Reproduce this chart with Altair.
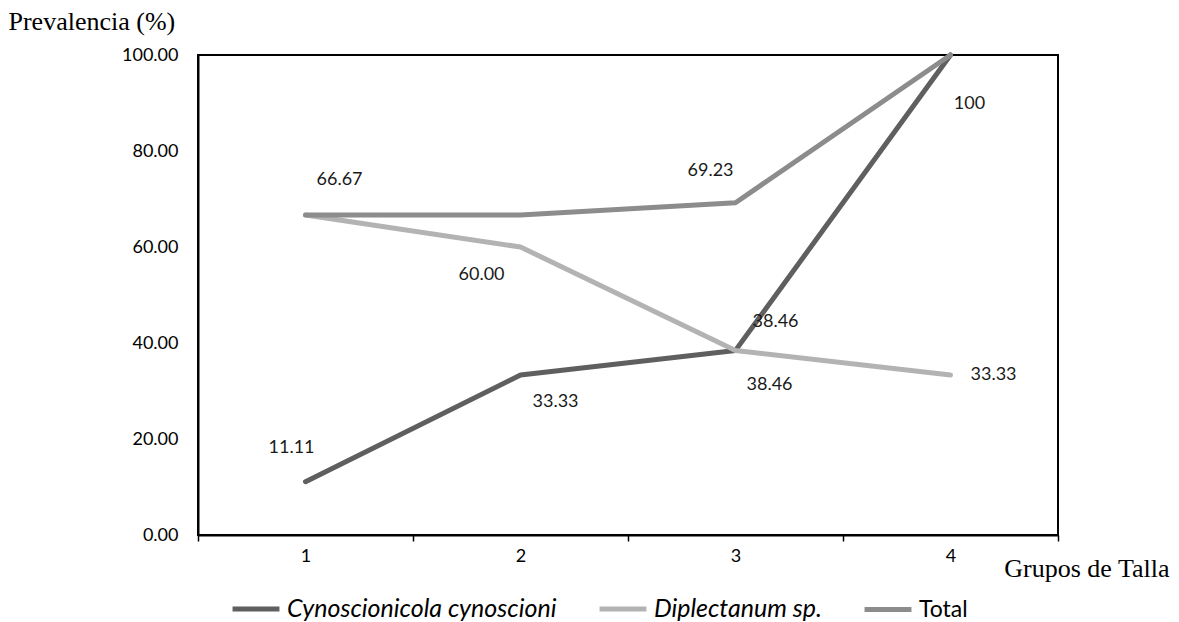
import altair as alt
import pandas as pd

groups = ["1", "2", "3", "4"]
series = ["Cynoscionicola cynoscioni", "Diplectanum sp.", "Total"]
cyno = [11.11, 33.33, 38.46, 100.0]
diple = [66.67, 60.00, 38.46, 33.33]
total = [66.67, 66.67, 69.23, 100.0]
colors = ["#5f5f5f", "#b3b3b3", "#8c8c8c"]

# data labels shown in the reference
lab_serie = [0, 0, 0, 0, 1, 1, 1, 2, 2]
lab_grupo = ["1", "2", "3", "4", "2", "3", "4", "1", "3"]
lab_text = ["11.11", "33.33", "38.46", "100", "60.00", "38.46", "33.33", "66.67", "69.23"]

# style: pixel offsets of each data label
lab_offsets = [(-14, -34), (35, 27), (40, -28), (19, 49), (-39, 28),
               (34, 35), (43, 0), (34, -35), (-25, -32)]

all_vals = [cyno, diple, total]
rows = []
for s, vals in zip(series, all_vals):
    for g, v in zip(groups, vals):
        rows.append({"serie": s, "grupo": g, "valor": v})
df = pd.DataFrame(rows)

lab_rows = []
for i, (si, g, t) in enumerate(zip(lab_serie, lab_grupo, lab_text)):
    lab_rows.append({"id": i, "serie": series[si], "grupo": g,
                     "valor": all_vals[si][groups.index(g)], "texto": t})
ldf = pd.DataFrame(lab_rows)

x = alt.X("grupo:O",
          scale=alt.Scale(type="band", paddingInner=0, paddingOuter=0, domain=groups),
          axis=alt.Axis(title="Grupos de Talla", labelAngle=0, tickBand="extent",
                        tickSize=6, tickColor="black", tickWidth=1.5,
                        domainColor="black", domainWidth=2,
                        labelFont="Lato", labelFontSize=18, labelColor="black",
                        labelPadding=6,
                        titleFont="Liberation Serif", titleFontSize=26,
                        titleFontWeight="normal", titleColor="black",
                        titleAlign="right", titleX=971, titleY=41,
                        titleBaseline="alphabetic"))
y = alt.Y("valor:Q",
          scale=alt.Scale(domain=[0, 100], nice=False),
          axis=alt.Axis(values=[0, 20, 40, 60, 80, 100], format=".2f",
                        title="Prevalencia (%)", titleAngle=0, titleAlign="left",
                        titleX=-190, titleY=-26, titleBaseline="alphabetic",
                        titleFont="Liberation Serif", titleFontSize=26,
                        titleFontWeight="normal", titleColor="black",
                        ticks=False, tickSize=0, grid=False,
                        domainColor="black", domainWidth=2,
                        labelFont="Lato", labelFontSize=18, labelColor="black",
                        labelPadding=20))

color = alt.Color("serie:N",
                  scale=alt.Scale(domain=series, range=colors),
                  legend=alt.Legend(title=None, orient="none", legendX=32, legendY=528,
                                    direction="horizontal", symbolType="stroke",
                                    symbolStrokeWidth=5, symbolSize=2200,
                                    labelFont="Lato",
                                    labelFontSize={"expr": "datum.label == 'Total' ? 23 : 25"},
                                    labelColor="black", labelOffset=5,
                                    labelLimit=0, columnPadding=32,
                                    labelFontStyle={"expr": "datum.label == 'Total' ? 'normal' : 'italic'"}))

layers = []
for s in series:
    layers.append(
        alt.Chart(df).transform_filter(alt.datum.serie == s)
        .mark_line(strokeWidth=5, strokeCap="round", strokeJoin="round")
        .encode(x=x, y=y, color=color)
    )

for i, (dx, dy) in enumerate(lab_offsets):
    layers.append(
        alt.Chart(ldf).transform_filter(alt.datum.id == i)
        .mark_text(dx=dx, dy=dy, font="Lato", fontSize=18, color="#1a1a1a")
        .encode(x=x, y=y, text="texto:N")
    )

chart = alt.layer(*layers).properties(
    width=860, height=480,
    autosize=alt.AutoSizeParams(type="none"),
    padding={"left": 198, "top": 55, "right": 121, "bottom": 87},
).configure(background="white").configure_view(stroke="black", strokeWidth=2)

chart.save("out.html", embed_options={"renderer": "svg", "actions": False})
